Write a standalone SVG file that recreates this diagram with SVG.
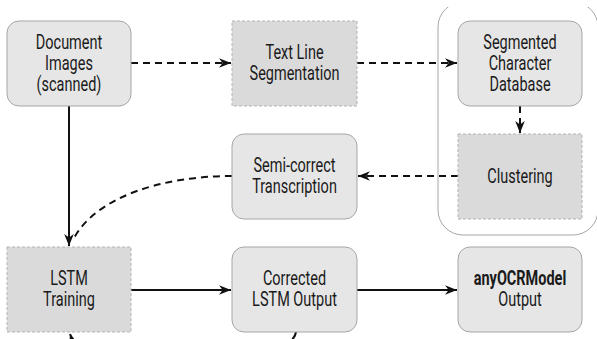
<svg xmlns="http://www.w3.org/2000/svg" width="597" height="339" viewBox="0 0 597 339">
<style>
.rnd{fill:#e6e6e6;stroke:#a6a6a6;stroke-width:1}
.dsh{fill:#dadada;stroke:#b3b3b3;stroke-width:1;stroke-dasharray:3,2}
.lbl{font-family:Roboto,"Liberation Sans",sans-serif;font-size:21px;font-weight:normal;fill:#1a1a1a;text-anchor:middle}
.b{font-weight:bold}
.sol{fill:none;stroke:#111;stroke-width:2}
.dl{fill:none;stroke:#111;stroke-width:2;stroke-dasharray:7,5}
</style>
<defs>
<marker id="ah" viewBox="0 0 10 8" refX="10" refY="4" markerWidth="12" markerHeight="10" markerUnits="userSpaceOnUse" orient="auto">
<path d="M0,0 L10,4 L0,8 L3,4 Z" fill="#111"/>
</marker>
<clipPath id="cc"><rect x="400" y="7" width="200" height="240"/></clipPath>
</defs>
<rect width="597" height="339" fill="#fff"/>
<g id="container">
<rect x="438" y="2" width="160" height="233" rx="25" fill="none" stroke="#a6a6a6" stroke-width="1" clip-path="url(#cc)"/>
</g>
<g id="connectors">
<path class="dl" d="M131,63 H231" marker-end="url(#ah)"/>
<path class="dl" d="M357,63 H457" marker-end="url(#ah)"/>
<path class="dl" d="M520,106 V133" marker-end="url(#ah)"/>
<path class="dl" d="M458,176 H358" marker-end="url(#ah)"/>
<path class="dl" d="M232,176 C160,176 96,198 74,238"/>
<path class="sol" d="M69,106 V246" marker-end="url(#ah)"/>
<path class="sol" d="M131,290 H231" marker-end="url(#ah)"/>
<path class="sol" d="M357,290 H457" marker-end="url(#ah)"/>
<path class="sol" d="M296,332 C290,372 82,372 70,334" marker-end="url(#ah)"/>
</g>
<g id="doc">
<rect class="rnd" x="7" y="21" width="124" height="85" rx="12"/>
<g transform="translate(69,0) scale(0.69,1)"><text class="lbl" x="0" y="49">Document</text><text class="lbl" x="0" y="70">Images</text><text class="lbl" x="0" y="91">(scanned)</text></g>
</g>
<g id="textline">
<rect class="dsh" x="232" y="21" width="125" height="85"/>
<g transform="translate(294.5,0) scale(0.69,1)"><text class="lbl" x="0" y="59.5">Text Line</text><text class="lbl" x="0" y="80.5">Segmentation</text></g>
</g>
<g id="segchar">
<rect class="rnd" x="458" y="21" width="124" height="85" rx="12"/>
<g transform="translate(520,0) scale(0.69,1)"><text class="lbl" x="0" y="49">Segmented</text><text class="lbl" x="0" y="70">Character</text><text class="lbl" x="0" y="91">Database</text></g>
</g>
<g id="clustering">
<rect class="dsh" x="458" y="134" width="124" height="85"/>
<g transform="translate(520,0) scale(0.69,1)"><text class="lbl" x="0" y="183">Clustering</text></g>
</g>
<g id="semicorrect">
<rect class="rnd" x="232" y="134" width="125" height="85" rx="12"/>
<g transform="translate(294.5,0) scale(0.69,1)"><text class="lbl" x="0" y="172.5">Semi-correct</text><text class="lbl" x="0" y="193.5">Transcription</text></g>
</g>
<g id="lstm">
<rect class="dsh" x="7" y="247" width="124" height="85"/>
<g transform="translate(69,0) scale(0.69,1)"><text class="lbl" x="0" y="285.5">LSTM</text><text class="lbl" x="0" y="306.5">Training</text></g>
</g>
<g id="corrected">
<rect class="rnd" x="232" y="247" width="125" height="85" rx="12"/>
<g transform="translate(294.5,0) scale(0.69,1)"><text class="lbl" x="0" y="285.5">Corrected</text><text class="lbl" x="0" y="306.5">LSTM Output</text></g>
</g>
<g id="anyocr">
<rect class="rnd" x="458" y="247" width="124" height="85" rx="12"/>
<g transform="translate(520,0) scale(0.69,1)"><text class="lbl b" x="0" y="285.5">anyOCRModel</text><text class="lbl" x="0" y="306.5">Output</text></g>
</g>
</svg>
